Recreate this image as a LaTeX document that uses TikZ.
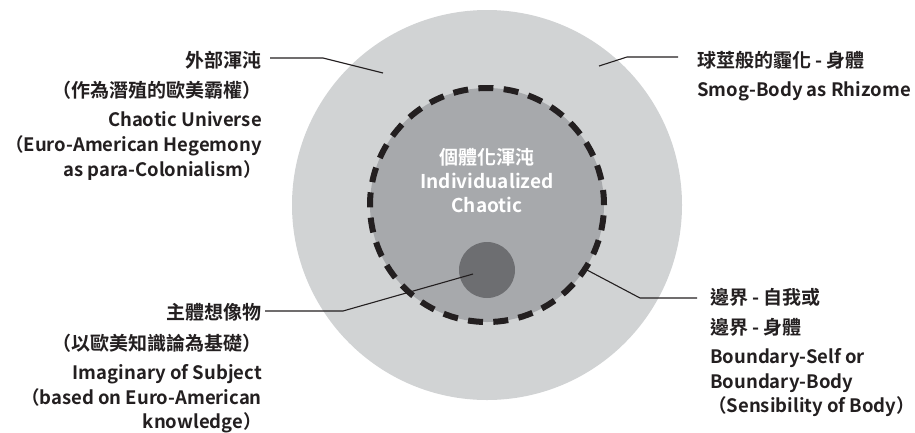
\documentclass[tikz,border=0pt]{standalone}
\usepackage{fontspec}
\setmainfont{Noto Sans CJK TC}[BoldFont={* Bold}]
\definecolor{outerg}{HTML}{D1D3D4}
\definecolor{midg}{HTML}{A7A9AC}
\definecolor{darkg}{HTML}{6D6E71}
\definecolor{ink}{HTML}{231F20}
\begin{document}
\begin{tikzpicture}[x=1pt,y=-1pt,
  lab/.style={inner sep=0pt, text=ink, font=\bfseries\fontsize{18.5}{21}\selectfont},
  cj/.style={inner sep=0pt, text=ink, font=\bfseries\fontsize{19}{21}\selectfont},
  ctr/.style={inner sep=0pt, text=white, anchor=base, font=\bfseries\fontsize{19}{21}\selectfont},
  lead/.style={draw=ink, line width=1.1pt},
  lft/.style={anchor=base east},
  rgt/.style={anchor=base west}]
\useasboundingbox (0,0) rectangle (915,432);
% circles
\node[circle, fill=outerg, minimum size=390pt, inner sep=0pt] (outer) at (487,205) {};
\node[circle, fill=midg, draw=ink, line width=6pt, minimum size=234pt, inner sep=0pt,
      dash pattern=on 15pt off 10.35pt] (bound) at (487,205) {};
\node[circle, fill=darkg, minimum size=56pt, inner sep=0pt] (subj) at (487,270) {};
% centre text
\node[ctr] (c1) at (487,164) {個體化渾沌};
\node[ctr] (c2) at (487,188) {Individualized};
\node[ctr] (c3) at (487,212) {Chaotic};
% left upper
\node[cj, lft]  (t1) at (262,67) {外部渾沌};
\node[cj, lft]  (t2) at (262,97) {（作為潛殖的歐美霸權）};
\node[lab, lft] (t3) at (262,126) {Chaotic Universe};
\node[lab, lft] (t4) at (262,151) {（Euro-American Hegemony};
\node[lab, lft] (t5) at (262,176) {as para-Colonialism）};
% left lower
\node[cj, lft]  (s1) at (262,319) {主體想像物};
\node[cj, lft]  (s2) at (262,350) {（以歐美知識論為基礎）};
\node[lab, lft] (s3) at (262,379) {Imaginary of Subject};
\node[lab, lft] (s4) at (262,404) {（based on Euro-American};
\node[lab, lft] (s5) at (262,428) {knowledge）};
% right upper
\node[cj, rgt]  (r1) at (697,67) {球莖般的霾化 - 身體};
\node[lab, rgt] (r2) at (697,96) {Smog-Body as Rhizome};
% right lower
\node[cj, rgt]  (b1) at (710,304) {邊界 - 自我或};
\node[cj, rgt]  (b2) at (710,334) {邊界 - 身體};
\node[lab, rgt] (b3) at (710,363) {Boundary-Self or};
\node[lab, rgt] (b4) at (710,388) {Boundary-Body};
\node[lab, rgt] (b5) at (708,412) {（Sensibility of Body）\hspace{-0.5em}};
% leader coordinates
\coordinate (l1s) at (270,58);
\coordinate (l1b) at (323,58);
\coordinate (l1e) at (383,73);
\coordinate (l2s) at (678,57);
\coordinate (l2b) at (627,57);
\coordinate (l2e) at (599,66);
\coordinate (l3s) at (265,311);
\coordinate (l3b) at (343,311);
\coordinate (l3e) at (473,274);
\coordinate (l4s) at (587,270);
\coordinate (l4b) at (640,298);
\coordinate (l4e) at (697,298);
\draw[lead] (l1s) -- (l1b) -- (l1e);
\draw[lead] (l2s) -- (l2b) -- (l2e);
\draw[lead] (l3s) -- (l3b) -- (l3e);
\draw[lead] (l4s) -- (l4b) -- (l4e);
\end{tikzpicture}
\end{document}
